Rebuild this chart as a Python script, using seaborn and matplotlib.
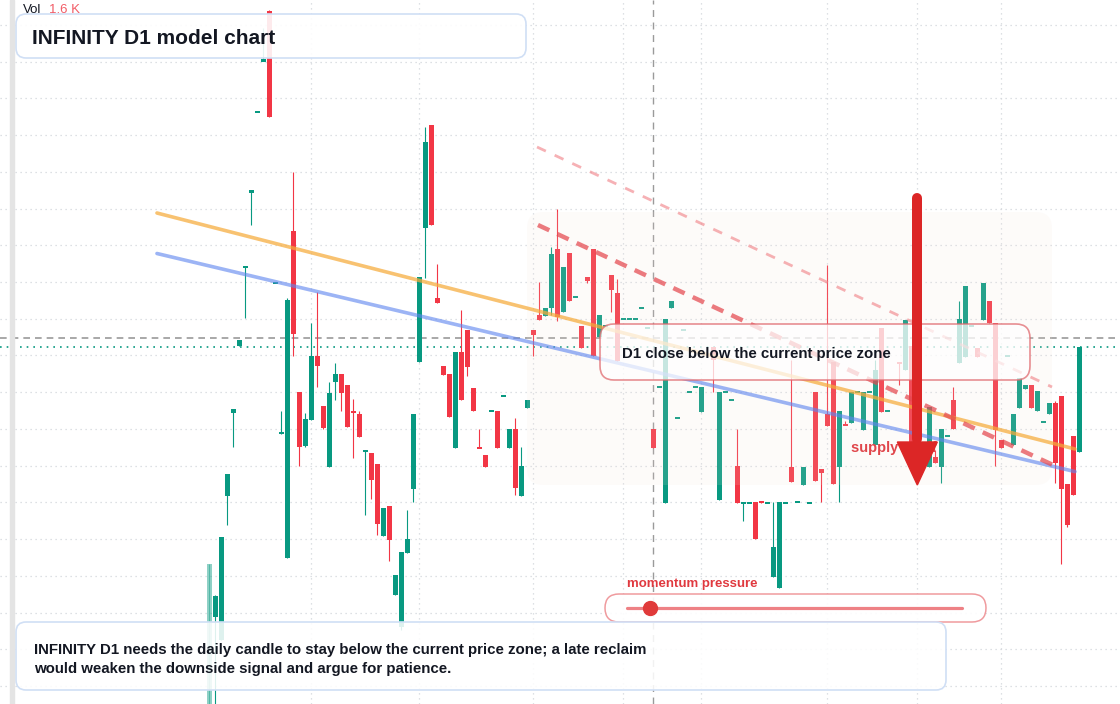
import matplotlib
matplotlib.use("Agg")
import matplotlib.pyplot as plt
from matplotlib.colors import to_rgba
from matplotlib.patches import FancyBboxPatch, Polygon, Rectangle
import numpy as np
import pandas as pd
import seaborn as sns

W, H = 1120, 704
UP, DOWN = "#089981", "#f23645"
INK = "#131722"

# daily candles (price units); nan = bar not visible
opens = [
    -2.0, 8.7, 6.4, 20.8, 29.1, 35.8, 43.6, 51.2, 59.2, 64.3,
    69.3, 42.1, 27.05, 14.6, 47.3, 31.2, 25.8, 28.4, 34.8, 29.8,
    23.7, 32.2, 33.0, 31.9, 29.25, 29.0, 25.25, 25.1, 24.0, 16.8,
    19.8, 10.9, 7.7, 15.1, 21.5, 34.2, 47.6, 57.9, 40.6, 33.8,
    33.0, 25.6, 35.2, 37.4, 31.6, 25.65, 24.9, 29.3, 29.3, 30.8,
    25.6, 27.5, 20.8, 29.6, 37.4, 38.9, 38.8, 39.6, 45.5, 39.2,
    45.1, 40.7, 37.8, 42.7, 45.5, 36.7, 37.8, 42.9, 41.1, 38.5,
    38.5, 38.5, 39.6, 37.6, 27.5, 31.7, 20.1, 39.6, 28.6, 37.4,
    31.2, 31.7, 29.2, np.nan, 35.7, 20.4, 31.2, 30.4, 23.8, 20.1,
    20.1, 20.2, 20.2, 20.1, 12.7, 11.6, 20.1, 23.7, 20.2, 21.9,
    20.1, 31.2, 23.5, 29.0, 34.2, 23.7, 27.95, 28.1, 31.2, 27.4,
    31.2, 25.9, 37.6, 29.3, np.nan, 34.15, 33.4, 35.8, 32.4, np.nan,
    23.7, 24.7, 23.7, 26.8, 30.4, 34.1, 34.7, 37.8, 35.6, 38.4,
    40.3, 38.1, 26.4, 34.8, 25.9, 29.6, 31.5, 31.9, 29.3, 28.2,
    29.0, 30.1, 30.8, 22.0, 26.8, 25.2,
]
highs = [
    14.0, 10.9, 16.7, 23.0, 29.5, 36.4, 43.7, 51.3, 59.2, 67.6,
    69.4, 42.1, 29.3, 40.6, 53.2, 31.2, 29.1, 38.1, 41.2, 29.8,
    32.2, 34.1, 33.0, 31.9, 30.5, 29.3, 25.3, 25.1, 24.0, 19.6,
    19.8, 12.9, 15.2, 19.4, 29.0, 42.7, 57.7, 57.9, 44.0, 33.8,
    33.0, 35.2, 39.4, 37.4, 31.6, 27.5, 24.9, 29.3, 29.3, 30.8,
    27.5, 28.6, 25.7, 30.4, 37.4, 42.2, 39.6, 45.7, 49.5, 43.7,
    45.1, 40.7, 37.8, 42.7, 45.5, 38.9, 37.8, 42.9, 42.5, 38.5,
    38.5, 38.5, 39.6, 37.6, 27.5, 31.7, 38.5, 40.3, 28.6, 37.4,
    31.2, 31.7, 31.7, np.nan, 35.7, 31.2, 31.2, 30.4, 27.5, 20.1,
    20.1, 20.2, 20.2, 20.1, 20.2, 20.2, 20.1, 34.4, 20.2, 23.7,
    20.1, 31.2, 23.5, 43.9, 34.2, 29.3, 28.3, 31.2, 31.2, 31.2,
    31.2, 34.4, 37.6, 29.3, np.nan, 34.15, 38.4, 35.8, 32.4, np.nan,
    29.7, 25.4, 27.5, 26.8, 31.7, 40.3, 41.8, 37.8, 35.6, 42.1,
    40.3, 38.1, 26.4, 34.8, 29.0, 32.6, 31.9, 31.9, 31.3, 28.2,
    30.1, 30.3, 30.8, 22.0, 26.8, 35.7,
]
lows = [
    -2.0, -0.5, 6.4, 17.9, 25.7, 35.8, 38.6, 47.9, 59.2, 64.3,
    58.7, 42.1, 27.05, 14.6, 34.8, 23.8, 25.7, 28.4, 31.7, 27.5,
    23.7, 30.4, 29.3, 27.7, 24.6, 26.7, 18.9, 20.5, 16.9, 16.8,
    14.3, 10.9, 7.4, 15.1, 20.2, 34.2, 42.6, 47.9, 40.1, 32.9,
    28.7, 25.6, 30.4, 32.8, 29.3, 25.6, 23.7, 29.3, 25.6, 30.8,
    25.6, 20.9, 20.8, 29.6, 34.8, 38.4, 38.8, 38.9, 38.3, 39.2,
    40.3, 40.7, 35.6, 42.1, 34.8, 36.7, 37.8, 39.2, 34.3, 38.5,
    38.5, 38.5, 39.6, 37.6, 25.6, 31.7, 20.1, 39.6, 28.6, 37.4,
    31.2, 31.7, 29.2, np.nan, 31.2, 20.4, 31.2, 30.4, 20.1, 18.3,
    20.1, 16.5, 20.15, 20.1, 12.7, 11.6, 20.1, 22.2, 20.2, 21.9,
    20.1, 22.3, 20.2, 27.8, 22.0, 20.2, 27.9, 28.1, 31.2, 27.4,
    31.2, 25.9, 29.2, 29.3, np.nan, 31.9, 33.4, 25.4, 27.4, np.nan,
    23.7, 24.1, 22.1, 26.8, 27.5, 34.1, 34.7, 37.8, 34.7, 38.4,
    38.1, 23.8, 25.6, 34.8, 25.9, 29.6, 31.5, 29.6, 29.3, 28.2,
    29.0, 22.1, 14.0, 17.7, 20.9, 25.2,
]
closes = [
    14.0, 10.8, 16.7, 23.0, 29.5, 36.4, 43.7, 51.3, 59.2, 64.4,
    58.7, 42.1, 27.1, 40.4, 37.0, 25.7, 28.5, 34.8, 33.8, 27.6,
    31.1, 33.0, 31.1, 27.7, 29.2, 26.7, 25.3, 22.4, 18.0, 19.6,
    16.4, 12.9, 15.2, 16.5, 29.0, 42.7, 56.2, 47.9, 40.1, 32.9,
    28.7, 35.2, 30.4, 33.7, 29.3, 25.6, 23.7, 29.3, 25.6, 30.8,
    27.5, 21.6, 23.8, 30.4, 36.9, 38.4, 39.6, 45.0, 38.7, 43.7,
    40.3, 40.7, 35.6, 42.3, 34.8, 38.9, 37.8, 41.4, 34.3, 38.5,
    38.5, 38.5, 39.6, 37.6, 25.6, 31.7, 38.5, 40.3, 28.6, 37.4,
    31.2, 31.7, 31.7, np.nan, 34.4, 31.2, 31.2, 30.4, 20.1, 20.1,
    20.1, 16.5, 20.15, 20.1, 15.7, 20.2, 20.1, 22.2, 20.2, 23.7,
    20.1, 22.3, 23.1, 27.8, 22.0, 29.3, 27.9, 31.2, 31.2, 31.2,
    31.2, 33.4, 29.2, 29.3, np.nan, 34.1, 38.4, 25.4, 27.4, np.nan,
    29.7, 24.1, 27.5, 26.8, 27.5, 38.5, 41.8, 37.8, 34.7, 42.1,
    38.1, 27.4, 25.6, 34.8, 29.0, 32.6, 31.9, 29.6, 31.3, 28.2,
    30.1, 24.1, 21.5, 17.9, 20.9, 35.7,
]
faded_bars = [0]

# drawn studies: (bar index, price) anchors
resistance_x = [-8.72, 144.28]
resistance_y = [49.1, 25.5]
support_x = [-8.72, 144.28]
support_y = [45.05, 23.24]
channel_x = [54.78, 140.62]
channel_y = [47.9, 23.9]
upper_channel_x = [54.62, 140.45]
upper_channel_y = [55.7, 31.7]
last_price = 36.6
ref_price = 35.7
cursor_bar = 74
month_bars = [17, 35, 54, 69, 82, 103, 118, 132]
arrow_bar = 118
arrow_from, arrow_to = 50.6, 21.9

sns.set_theme(style="white")
plt.rcParams["font.family"] = ["Liberation Sans", "DejaVu Sans"]

fig = plt.figure(figsize=(W / 100, H / 100), dpi=100)
ax = fig.add_axes([0, 0, 1, 1])
ax.axis("off")


def px_box(x0, y0, x1, y1, r, face, face_alpha, edge="none", edge_alpha=1.0, lw=1.0, z=5):
    box = FancyBboxPatch(
        (x0 / W, 1 - y1 / H), (x1 - x0) / W, (y1 - y0) / H,
        boxstyle=f"round,pad=0,rounding_size={r / W}", mutation_aspect=W / H,
        transform=ax.transAxes, facecolor=to_rgba(face, face_alpha),
        edgecolor=edge if edge == "none" else to_rgba(edge, edge_alpha),
        linewidth=lw, zorder=z, clip_on=False)
    ax.add_patch(box)


def px_text(x, y, s, **kw):
    # y is the visual middle of the glyphs; matplotlib's box centre sits ~2px higher
    ax.text(x / W, 1 - (y + 2) / H, s, transform=ax.transAxes, va="center", **kw)


# grid
for k in range(19):
    ax.axhline((704 - (25 + 36.72 * k)) / 10, color="#d3d6dc", lw=0.9, ls=(0, (1, 3)), zorder=0)
for b in month_bars:
    ax.axvline(b, color="#d3d6dc", lw=0.9, ls=(0, (1, 3)), zorder=0)
ax.axvline(cursor_bar, color="#9a9a9a", lw=1.0, ls=(0, (5, 4)), zorder=1)
ax.axhline(last_price, color="#9a9a9a", lw=1.2, ls=(0, (4, 3)), zorder=1)
ax.axhline(ref_price, color=UP, lw=1.2, ls=(0, (1, 3)), zorder=1)

# candles
df = pd.DataFrame({"open": opens, "high": highs, "low": lows, "close": closes})
df["bar"] = np.arange(len(df))
df = df.dropna()
df["color"] = np.where(df.close >= df.open, UP, DOWN)
df["alpha"] = np.where(df.bar.isin(faded_bars), 0.45, 1.0)
rgba = [to_rgba(c, a) for c, a in zip(df.color, df.alpha)]
body = (df.close - df.open).abs().clip(lower=0.2)
mid = (df.close + df.open) / 2
ax.vlines(df.bar, df.low, df.high, colors=rgba, lw=0.8, zorder=2)
ax.bar(df.bar, body, bottom=mid - body / 2, width=0.82, color=rgba, linewidth=0, zorder=2)

# highlighted zone
px_box(527, 212, 1052, 485, 16, "#f3e3d8", 0.13, z=3)

# trend lines
sns.lineplot(x=resistance_x, y=resistance_y, ax=ax, color="#f6ab3a", lw=2.6, alpha=0.72, zorder=4)
sns.lineplot(x=support_x, y=support_y, ax=ax, color="#5f86ef", lw=2.6, alpha=0.62, zorder=4)
sns.lineplot(x=upper_channel_x, y=upper_channel_y, ax=ax, color="#f07e84", lw=2.0,
             alpha=0.6, ls=(0, (3.5, 3.5)), zorder=4)
sns.lineplot(x=channel_x, y=channel_y, ax=ax, color="#e5484f", lw=3.2,
             alpha=0.72, ls=(0, (2.8, 2.0)), zorder=4)

px_text(851, 446, "supply shelf", color="#e0464b", fontsize=10.5, fontweight="bold", zorder=5)

# callout
px_box(600, 324, 1030, 380, 14, "white", 0.74, "#e06a6f", 0.75, 1.2, z=6)
px_text(622, 352, "D1 close below the current price zone", color=INK,
        fontsize=10.8, fontweight="bold", zorder=7)

# arrow
ax.plot([arrow_bar, arrow_bar], [arrow_from, 26.5], color="#dc2626", lw=7.2,
        solid_capstyle="round", zorder=8)
ax.add_patch(Polygon([(arrow_bar - 3.33, 26.2), (arrow_bar + 3.33, 26.2), (arrow_bar, arrow_to)],
                     closed=True, color="#dc2626", zorder=8))

# title
px_box(16, 14, 526, 58, 10, "white", 0.9, "#d0dff5", 1.0, 1.2, z=9)
px_text(32, 36, "INFINITY D1 model chart", color=INK, fontsize=15, fontweight="bold", zorder=10)
px_text(23, 8, "Vol", color=INK, fontsize=9.5, zorder=10)
px_text(49, 8, "1.6 K", color="#f25c66", fontsize=9.5, zorder=10)

# momentum widget
px_box(605, 594, 986, 622, 14, "white", 0.9, "#ee9094", 0.9, 1.1, z=9)
px_text(627, 582, "momentum pressure", color="#e0393f", fontsize=9.5, fontweight="bold", zorder=10)
ax.plot([627 / W, 962 / W], [1 - 608 / H] * 2, transform=ax.transAxes, color="#ee8185",
        lw=2.3, solid_capstyle="round", zorder=10)
ax.plot([650 / W], [1 - 608 / H], transform=ax.transAxes, marker="o", ms=10,
        color="#e03a3a", zorder=11)

# note
px_box(16, 622, 946, 690, 10, "white", 0.87, "#d0dff5", 1.0, 1.2, z=9)
px_text(34, 648, "INFINITY D1 needs the daily candle to stay below the current price zone; a late reclaim",
        color=INK, fontsize=10.8, fontweight="bold", zorder=10)
px_text(34, 667, "would weaken the downside signal and argue for patience.",
        color=INK, fontsize=10.8, fontweight="bold", zorder=10)

ax.add_patch(Rectangle((10 / W, 0), 4 / W, 1, transform=ax.transAxes, color="#e4e4e4", zorder=12))

ax.set_xlim(-34.88, 151.78)
ax.set_ylim(0, 70.4)
fig.savefig("out.png", dpi=100)
